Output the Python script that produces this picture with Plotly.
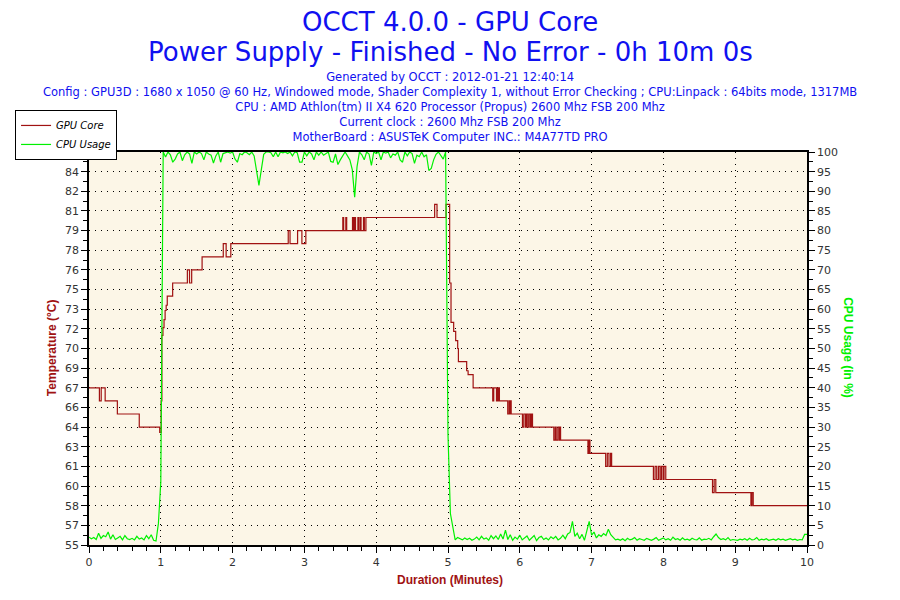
import numpy as np
import plotly.graph_objects as go

# GPU core temperature (step trace): time in minutes, value in degrees C
temp_time = [0, 0.145, 0.17, 0.225, 0.395, 0.70, 0.985, 1.005, 1.015, 1.03, 1.045, 1.06, 1.075, 1.09,
             1.165, 1.37, 1.40, 1.43, 1.575, 1.87, 1.91, 1.975, 2.775, 2.80, 2.905, 2.965, 3.02,
             3.535, 3.547, 3.577, 3.589, 3.670, 3.682, 3.698, 3.712, 3.745, 3.757, 3.777, 3.789,
             3.823, 3.835, 3.857, 4.814, 4.847, 4.973, 5.023, 5.042, 5.079, 5.107, 5.135, 5.145,
             5.26, 5.28, 5.35, 5.623, 5.637, 5.675, 5.684, 5.693, 5.707, 5.716, 5.832, 5.851,
             5.86, 5.87, 5.88, 6.037, 6.056, 6.079, 6.093, 6.112, 6.13, 6.149, 6.163, 6.177,
             6.474, 6.493, 6.507, 6.53, 6.549, 6.558, 6.568, 6.949, 6.963, 6.977, 7.196, 7.219,
             7.242, 7.265, 7.279, 7.861, 7.884, 7.907, 7.931, 7.953, 7.972, 7.995, 8.009, 8.033,
             8.684, 8.707, 8.73, 9.219, 9.233, 9.251, 10]
temp_vals = [67, 66, 67, 66, 65, 64, 63.6, 66, 71, 71.6, 72.2, 72.9, 73.3, 74,
             75, 76, 75, 76, 77, 78, 77, 78, 79, 78, 79, 78, 79,
             80, 79, 80, 79, 80, 79, 80, 79, 80, 79, 80, 79,
             80, 79, 80, 81, 80, 81, 75, 72, 71.3, 70.6, 70, 69,
             68.3, 68, 67, 66, 67, 66, 67, 66, 67, 66, 65, 66,
             65, 66, 65, 64, 65, 64, 65, 64, 65, 64, 65, 64,
             63, 64, 63, 64, 63, 64, 63, 62, 63, 62, 61, 62,
             61, 62, 61, 60, 61, 60, 61, 60, 61, 60, 61, 60,
             59, 60, 59, 58, 59, 58, 58]

# CPU usage in %, one sample every 2 seconds
cpu_idle_before = [2.0, 1.6, 1.9, 1.4, 3.0, 1.7, 2.4, 2.1, 3.3, 1.5, 2.6, 1.4, 1.8, 2.2, 1.3, 2.4,
                   1.6, 1.4, 1.7, 1.3, 2.2, 1.5, 1.8, 1.3, 2.4, 1.6, 2.6, 1.2, 1.0, 5.5, 16]
cpu_load = [100, 98.7, 100, 99.3, 97.4, 98.2, 99.5, 100, 97.8, 99.3, 100, 99.5, 97.1, 100, 99.5, 100,
            99.6, 98, 100, 99.5, 99.2, 97.2, 99, 100, 97.4, 99.6, 99.8, 100, 99.7, 100, 98.2, 97.4,
            99.6, 99.3, 100, 99.8, 99.3, 100, 99.0, 94.9, 91.5, 95.5, 99.4, 100, 100, 99.8, 98.8, 100,
            98.8, 100, 99.8, 100, 99.6, 100, 99, 100, 99.8, 97.4, 97.4, 100, 99, 100, 99.5, 98,
            100, 99.2, 100, 99.2, 99.6, 100, 97.6, 97.4, 99.5, 96.8, 98, 99, 100, 99.0, 98, 95.5,
            88.5, 96.3, 100, 99.3, 98, 100, 99.5, 96.6, 100, 99.6, 100, 98, 100, 99.7, 100, 98.5,
            99.5, 99.2, 100, 98, 97.4, 100, 99, 100, 99.6, 97.1, 99.2, 98.8, 100, 98.8, 99.3, 95.3,
            95.8, 98, 99.4, 100, 99.2, 98.2, 100]
cpu_idle_after = [28, 8, 4.5, 1.3, 1.9, 1.6, 1.3, 1.8, 1.4, 1.7, 1.2, 1.5, 2.0, 1.3, 2.2, 1.5,
                  1.8, 1.2, 2.4, 1.6, 2.3, 1.4, 2.8, 1.5, 3.8, 1.4, 2.6, 1.2, 2.0, 1.5, 2.5, 1.3,
                  1.8, 2.3, 1.2, 1.7, 2.4, 1.1, 1.9, 2.2, 1.4, 1.8, 1.3, 2.1, 1.6, 2.2, 1.3, 1.7,
                  2.5, 1.6, 2.8, 3.2, 6.0, 2.2, 3.0, 1.6, 2.7, 1.2, 3.4, 6.0, 2.5, 3.3, 1.8, 2.6,
                  2.2, 2.9, 2.4, 4.0, 2.6, 1.8, 1.3, 1.5, 1.2, 1.6, 1.1, 1.7, 1.3, 1.5, 1.9, 1.2,
                  1.6, 1.4, 1.2, 1.7, 1.4, 1.2, 1.5, 1.9, 1.2, 1.5, 1.8, 1.3, 1.6, 1.2, 2.0, 1.4,
                  1.6, 1.2, 1.8, 1.3, 1.5, 1.2, 1.7, 1.4, 1.3, 1.8, 1.2, 1.5, 1.4, 1.7, 1.3, 2.1,
                  2.8, 1.9, 1.4, 1.6, 1.3, 1.9, 1.2, 1.4, 1.3, 1.2, 1.5, 1.3, 1.6, 1.2, 1.7, 1.3,
                  1.4, 1.9, 1.2, 1.5, 1.3, 1.6, 1.2, 1.4, 1.5, 1.2, 1.6, 1.3, 1.5, 1.2, 1.4, 1.6,
                  1.3, 1.5, 1.2, 1.4, 1.3, 2.7, 2.7]
cpu_vals = cpu_idle_before + cpu_load + cpu_idle_after
cpu_time = np.arange(len(cpu_vals)) * 2 / 60

temp_ticks = [55, 56.5, 58, 59.5, 61, 62.5, 64, 65.5, 67, 68.5, 70, 71.5, 73, 74.5, 76, 77.5, 79,
              80.5, 82, 83.5, 85]
temp_labels = ['55', '57', '58', '60', '61', '63', '64', '66', '67', '69', '70', '72', '73', '75',
               '76', '78', '79', '81', '82', '84', '85']

subtitle = ("Generated by OCCT : 2012-01-21 12:40:14<br>"
            "Config : GPU3D : 1680 x 1050 @ 60 Hz, Windowed mode, Shader Complexity 1, without Error Checking ; "
            "CPU:Linpack : 64bits mode, 1317MB<br>"
            "CPU : AMD Athlon(tm) II X4 620 Processor (Propus) 2600 Mhz FSB 200 Mhz<br>"
            "Current clock : 2600 Mhz FSB 200 Mhz<br>"
            "MotherBoard : ASUSTeK Computer INC.: M4A77TD PRO")

RED = '#A01212'
GREEN = '#00F000'
BLUE = '#1010F0'

fig = go.Figure()
fig.add_trace(go.Scatter(x=temp_time, y=temp_vals, name='GPU Core', mode='lines',
                         line=dict(color=RED, width=1.2, shape='hv')))
fig.add_trace(go.Scatter(x=cpu_time, y=cpu_vals, name='CPU Usage', mode='lines', yaxis='y2',
                         line=dict(color=GREEN, width=1.2)))

# the page body has an 8px margin, so the figure is a bit smaller than the window
tick_font = dict(family='DejaVu Sans', size=11, color='#333333')
dots = '1px,5px'
fig.update_layout(
    width=892, height=592,
    margin=dict(l=81, r=93, t=144, b=55, autoexpand=False),
    paper_bgcolor='white',
    plot_bgcolor='#FCF6E7',
    showlegend=True,
    legend=dict(x=-0.103, y=1.107, xanchor='left', yanchor='top', bgcolor='white',
                bordercolor='black', borderwidth=1,
                font=dict(family='DejaVu Sans', size=10, color='black', style='italic'),
                itemwidth=30, tracegroupgap=0),
    xaxis=dict(range=[0, 10], dtick=1, tick0=0, showline=True, linecolor='black', linewidth=1.5,
               mirror=True, ticks='outside', ticklen=6, tickcolor='black', tickfont=tick_font,
               showgrid=True, gridcolor='black', griddash=dots, gridwidth=1.2, zeroline=False,
               minor=dict(dtick=0.2, tick0=0, ticks='outside', ticklen=4, tickcolor='black',
                          showgrid=False)),
    yaxis=dict(range=[55, 85], tickmode='array', tickvals=temp_ticks, ticktext=temp_labels,
               showline=True, linecolor='black', linewidth=1.5, ticks='outside', ticklen=6,
               tickcolor='black', tickfont=tick_font, showgrid=True, gridcolor='black',
               griddash=dots, gridwidth=1.2, zeroline=False,
               minor=dict(tickmode='linear', tick0=55.75, dtick=1.5, ticks='outside', ticklen=4,
                          tickcolor='black', showgrid=False)),
    yaxis2=dict(range=[0, 100], overlaying='y', side='right', dtick=5, showline=True,
                linecolor='black', linewidth=1.5, ticks='outside', ticklen=6, tickcolor='black',
                tickfont=tick_font, showgrid=False, zeroline=False,
                minor=dict(dtick=2.5, tick0=0, ticks='outside', ticklen=4, tickcolor='black',
                           showgrid=False)),
)

fig.add_annotation(text='OCCT 4.0.0 - GPU Core', xref='paper', yref='paper', x=0.503, y=1.33,
                   xanchor='center', yanchor='middle', showarrow=False,
                   font=dict(family='DejaVu Sans', size=26, color=BLUE))
fig.add_annotation(text='Power Supply - Finished - No Error - 0h 10m 0s', xref='paper', yref='paper',
                   x=0.503, y=1.255, xanchor='center', yanchor='middle', showarrow=False,
                   font=dict(family='DejaVu Sans', size=26, color=BLUE))
fig.add_annotation(text=subtitle, xref='paper', yref='paper', x=0.503, y=1.215, xanchor='center',
                   yanchor='top', showarrow=False, align='center',
                   font=dict(family='DejaVu Sans', size=11.5, color=BLUE))

fig.add_annotation(text='<b>Temperature (°C)</b>', xref='paper', yref='paper', x=-0.0515, y=0.501,
                   xanchor='center', yanchor='middle', textangle=-90, showarrow=False,
                   font=dict(family='Liberation Sans', size=12, color=RED))
fig.add_annotation(text='<b>CPU Usage (in %)</b>', xref='paper', yref='paper', x=1.057, y=0.501,
                   xanchor='center', yanchor='middle', textangle=90, showarrow=False,
                   font=dict(family='Liberation Sans', size=12, color=GREEN))
fig.add_annotation(text='<b>Duration (Minutes)</b>', xref='paper', yref='paper', x=0.503, y=-0.089,
                   xanchor='center', yanchor='middle', showarrow=False,
                   font=dict(family='Liberation Sans', size=12, color=RED))

fig.write_html("out.html")
